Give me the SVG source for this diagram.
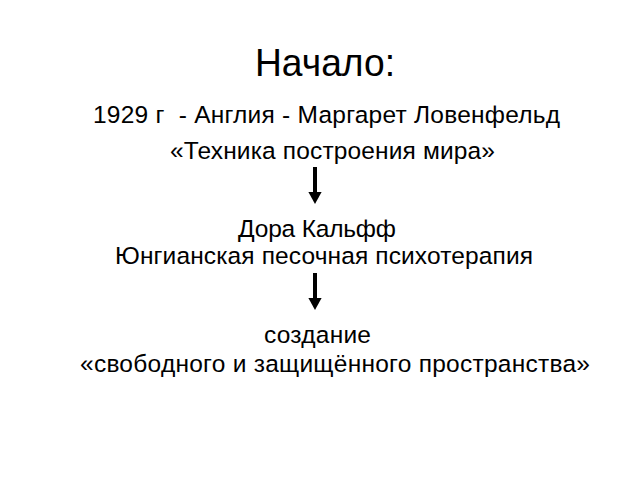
<svg xmlns="http://www.w3.org/2000/svg" width="640" height="480" viewBox="0 0 640 480">
<style>
text{font-family:"Liberation Sans",Arial,sans-serif;fill:#000;white-space:pre}
.t{font-size:39px}
.b{font-size:24.5px}
.c{stroke:#000;stroke-width:4}
</style>
<defs>
<marker id="ah" markerWidth="3.4" markerHeight="3.4" refX="0" refY="1.65" orient="auto" markerUnits="strokeWidth">
<path d="M0,0 L3,1.65 L0,3.3 Z" fill="#000"/>
</marker>
</defs>
<rect width="640" height="480" fill="#fff"/>
<g id="title"><text class="t" x="255" y="76" textLength="140" lengthAdjust="spacingAndGlyphs">Начало:</text></g>
<g id="n1">
<text class="b" x="93" y="123" textLength="467" xml:space="preserve">1929 г  - Англия - Маргарет Ловенфельд</text>
<text class="b" x="170" y="159" textLength="325">«Техника построения мира»</text>
</g>
<g id="n2">
<text class="b" x="238" y="237" textLength="158">Дора Кальфф</text>
<text class="b" x="115" y="264" textLength="418">Юнгианская песочная психотерапия</text>
</g>
<g id="n3">
<text class="b" x="264" y="343" textLength="107">создание</text>
<text class="b" x="80" y="372" textLength="510">«свободного и защищённого пространства»</text>
</g>
<g id="connectors">
<line class="c" x1="315" y1="167" x2="315" y2="192" marker-end="url(#ah)"/>
<line class="c" x1="315" y1="273" x2="315" y2="298" marker-end="url(#ah)"/>
</g>
</svg>
